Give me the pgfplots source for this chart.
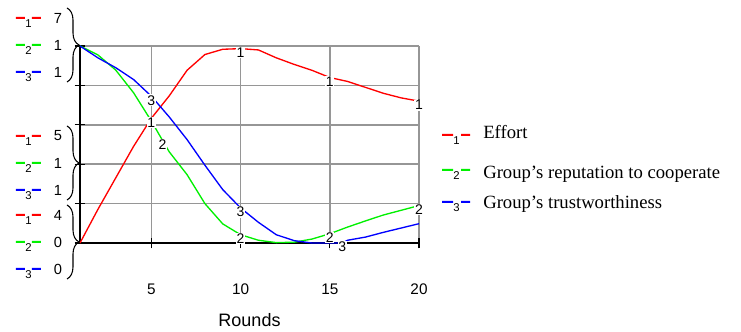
\documentclass[border=0pt]{standalone}
\usepackage{fontspec}
\setmainfont{Liberation Serif}
\newfontfamily\arial{Liberation Sans}
\usepackage{pgfplots}
\usepackage{pgfplotstable}
\pgfplotsset{compat=1.18}
\usetikzlibrary{decorations.pathreplacing}
\definecolor{vred}{RGB}{255,0,0}
\definecolor{vgreen}{RGB}{0,240,0}
\definecolor{vblue}{RGB}{0,0,255}
\definecolor{gridgray}{RGB}{150,150,150}

\pgfplotstableread{
r e
1 4.00
2 4.51
3 4.99
4 5.47
5 5.90
6 6.24
7 6.63
8 6.87
9 6.95
10 6.96
11 6.94
12 6.82
13 6.72
14 6.63
15 6.52
16 6.46
17 6.37
18 6.28
19 6.21
20 6.16
}\efforttab

\pgfplotstableread{
r g
1 1.00
2 0.955
3 0.878
4 0.763
5 0.619
5.63 0.52
6 0.463
7 0.347
8 0.20
9 0.097
10 0.042
11 0.014
12 0.002
13 0.004
14 0.02
15 0.047
16 0.081
17 0.112
18 0.142
19 0.166
20 0.19
}\reptab

\pgfplotstableread{
r t
1 1.00
2 0.94
3 0.89
4 0.83
5 0.745
6 0.64
7 0.525
8 0.395
9 0.271
10 0.178
11 0.105
12 0.042
13 0.012
14 0.0
15 0.0
15.7 0.0
16 0.014
17 0.03
18 0.054
19 0.076
20 0.098
}\trusttab

\pgfplotsset{
  base/.style={at={(0pt,0pt)}, anchor=south west, scale only axis,
    width=254.25pt, height=147.75pt, xmin=1, xmax=20, clip=false},
  lbl/.style={only marks, black, mark=text, text mark={#1}, text mark as node=true,
    text mark style={fill=white, inner sep=0.6pt, yshift=-3pt,
      font=\arial\fontsize{10.5}{11}\selectfont}},
}

\begin{document}
\begin{tikzpicture}
\begin{scope}[x=0.75pt,y=-0.75pt,shift={(-60pt,182.25pt)}]
\path[use as bounding box] (0,0) rectangle (741,329);
\end{scope}

\begin{axis}[base, ymin=4, ymax=7,
  axis x line*=bottom, axis y line*=left,
  axis line style={black, line width=1.1pt},
  xtick={5,10,15,20}, xticklabels={5,10,15,20},
  ytick={4,4.6,5.2,5.8,6.4,7}, yticklabels={},
  grid=major, major grid style={gridgray, line width=1.25pt},
  tick align=center, major tick length=8pt, tick style={black, line width=0.8pt},
  /pgf/number format/assume math mode=true,
  xticklabel style={font=\arial\fontsize{11.5}{12}\selectfont, anchor=center, yshift=-31pt},
  xlabel={Rounds},
  every axis x label/.style={at={(axis description cs:0.5,0)}, anchor=center,
    yshift=-57.75pt, font=\arial\fontsize{13.5}{14}\selectfont},
]
\addplot[vred, line width=1pt] table[x=r, y=e] {\efforttab};
\end{axis}

\begin{axis}[base, ymin=0, ymax=1, hide axis]
\addplot[vgreen, line width=1pt] table[x=r, y=g] {\reptab};
\addplot[vblue, line width=1pt] table[x=r, y=t] {\trusttab};
\end{axis}

\begin{axis}[base, ymin=4, ymax=7, hide axis]
\addplot[lbl=1] coordinates {(5,5.90) (10,6.96) (15,6.52) (20,6.16)};
\end{axis}

\begin{axis}[base, ymin=0, ymax=1, hide axis]
\addplot[lbl=2] coordinates {(5.63,0.52) (10,0.042) (15,0.047) (20,0.19)};
\addplot[lbl=3] coordinates {(5,0.745) (10,0.178) (15.7,0.0)};
\end{axis}

\begin{scope}[x=0.75pt,y=-0.75pt,shift={(-60pt,182.25pt)}]
  % left value groups
  \foreach \T/\a/\b/\c in {46/7/1/1, 164/5/1/1, 243/4/0/0} {
    \fill[vred] (16,\T-29) rectangle (25,\T-27) (32,\T-29) rectangle (41,\T-27);
    \fill[vgreen] (16,\T-2) rectangle (25,\T) (32,\T-2) rectangle (41,\T);
    \fill[vblue] (16,\T+25) rectangle (25,\T+27) (32,\T+25) rectangle (41,\T+27);
    \node[font=\arial\fontsize{8.5}{9}\selectfont, inner sep=0] at (28.5,\T-22) {1};
    \node[font=\arial\fontsize{8.5}{9}\selectfont, inner sep=0] at (28.5,\T+5) {2};
    \node[font=\arial\fontsize{8.5}{9}\selectfont, inner sep=0] at (28.5,\T+32) {3};
    \node[font=\arial\fontsize{11}{12}\selectfont, inner sep=0] at (58,\T-28) {\a};
    \node[font=\arial\fontsize{11}{12}\selectfont, inner sep=0] at (58,\T-1) {\b};
    \node[font=\arial\fontsize{11}{12}\selectfont, inner sep=0] at (58,\T+26) {\c};
    \draw[black, line width=0.8pt, decorate, decoration={brace, amplitude=9pt}]
      (67,\T-38) -- (67,\T+36);
  }
  % right legend
  \fill[vred] (442,134) rectangle (453,136) (461,134) rectangle (470,136);
  \node[font=\arial\fontsize{8.5}{9}\selectfont, inner sep=0] at (456.5,140.5) {1};
  \node[anchor=base west, inner sep=0, font=\fontsize{14}{16}\selectfont] at (483,138.3) {Effort};
  \fill[vgreen] (442,169) rectangle (453,171) (461,169) rectangle (470,171);
  \node[font=\arial\fontsize{8.5}{9}\selectfont, inner sep=0] at (456.5,175.5) {2};
  \node[anchor=base west, inner sep=0, font=\fontsize{14}{16}\selectfont] at (483,178.3) {Group’s reputation to cooperate};
  \fill[vblue] (442,201) rectangle (453,203) (461,201) rectangle (470,203);
  \node[font=\arial\fontsize{8.5}{9}\selectfont, inner sep=0] at (456.5,207.5) {3};
  \node[anchor=base west, inner sep=0, font=\fontsize{14}{16}\selectfont] at (483,208.3) {Group’s trustworthiness};
\end{scope}
\end{tikzpicture}
\end{document}
